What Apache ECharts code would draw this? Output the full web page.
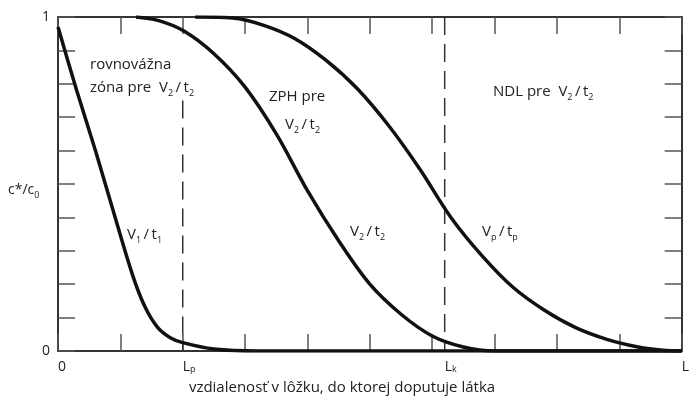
<!DOCTYPE html>
<html>
<head>
<meta charset="utf-8">
<script src="https://cdn.jsdelivr.net/npm/echarts@6/dist/echarts.min.js"></script>
<style>
  html, body { margin: 0; padding: 0; background: #fff; }
  #chart { width: 692px; height: 399px; }
</style>
</head>
<body>
<div id="chart"></div>
<script>
// Breakthrough curves: relative concentration c*/c0 along the bed length
const xTickValues = [0, 2, 6.2, 10];
const xTickLabels = ['0', 'L{s|p}', 'L{s|k}', 'L'];
const yTickValues = [0, 1];
const yTickLabels = ['0', '1'];

const curveV1 = [[0, 0.97], [0.3, 0.78], [0.6, 0.60], [0.9, 0.41], [1.2, 0.225], [1.4, 0.13],
  [1.6, 0.07], [1.8, 0.04], [2.0, 0.025], [2.5, 0.006], [3.2, 0], [10, 0]];
const curveV2 = [[1.25, 1.0], [1.6, 0.99], [2.0, 0.96], [2.5, 0.89], [3.0, 0.79], [3.5, 0.65],
  [4.0, 0.48], [4.5, 0.33], [5.0, 0.20], [5.5, 0.11], [6.0, 0.045], [6.5, 0.012], [7.0, 0], [10, 0]];
const curveVp = [[2.2, 1.0], [2.8, 0.997], [3.3, 0.975], [3.8, 0.935], [4.3, 0.87], [4.8, 0.785],
  [5.3, 0.675], [5.8, 0.545], [6.3, 0.40], [6.8, 0.285], [7.3, 0.19], [7.8, 0.122], [8.3, 0.07],
  [8.8, 0.035], [9.3, 0.012], [9.7, 0.002], [10, 0]];

// Zone boundaries Lp and Lk (dashed verticals)
const lineLp = [[2, 0.75], [2, 0]];
const lineLk = [[6.2, 1], [6.2, 0]];

const FONT = '"Open Sans", "Noto Sans", sans-serif';
const TEXT = '#222';
const THIN = '\u2009';
const subRich = {
  s: { fontSize: 9, fontFamily: FONT, color: TEXT, verticalAlign: 'bottom' }
};

const chart = echarts.init(document.getElementById('chart'), null, { renderer: 'canvas' });

function frameLine() {
  return { show: true, onZero: false, lineStyle: { color: '#333', width: 2 } };
}
function innerTick() {
  return { show: true, inside: true, length: 17, lineStyle: { color: '#555', width: 1.5 } };
}

function curve(data) {
  return {
    type: 'line', data: data, smooth: 0.35, showSymbol: false, symbol: 'none',
    lineStyle: { color: '#111', width: 3.5 }, z: 5, animation: false
  };
}
function dashed(data) {
  return {
    type: 'line', data: data, showSymbol: false, symbol: 'none',
    lineStyle: { color: '#333', width: 1.5, type: [18, 9] }, z: 3, animation: false
  };
}

function label(text, x, y, size) {
  return {
    type: 'text', x: x, y: y,
    style: {
      text: text, fill: TEXT, fontSize: size || 15, fontFamily: FONT,
      verticalAlign: 'middle', align: 'left',
      rich: {
        s: { fontSize: 9, fontFamily: FONT, fill: TEXT, verticalAlign: 'bottom' }
      },
      lineHeight: 20
    },
    z: 10
  };
}

const V = (a, b) => 'V{s|' + a + '}' + THIN + '/' + THIN + 't{s|' + b + '}';

chart.setOption({
  animation: false,
  backgroundColor: '#fff',
  grid: { left: 58, right: 3, top: 17, bottom: 48 },
  xAxis: [
    {
      type: 'value', min: 0, max: 10, interval: 1, position: 'bottom',
      axisLine: frameLine(), axisTick: innerTick(), splitLine: { show: false },
      axisLabel: {
        customValues: xTickValues, margin: 9, align: 'left',
        alignMinLabel: 'left', alignMaxLabel: 'left', hideOverlap: false,
        color: TEXT, fontSize: 14, fontFamily: FONT,
        formatter: v => xTickLabels[xTickValues.indexOf(v)] || '',
        rich: subRich
      }
    },
    {
      type: 'value', min: 0, max: 10, interval: 1, position: 'top',
      axisLine: frameLine(), axisTick: innerTick(), splitLine: { show: false },
      axisLabel: { show: false }
    }
  ],
  yAxis: [
    {
      type: 'value', min: 0, max: 1, interval: 0.1, position: 'left',
      axisLine: frameLine(), axisTick: innerTick(), splitLine: { show: false },
      axisLabel: {
        customValues: yTickValues, margin: 8,
        color: TEXT, fontSize: 14, fontFamily: FONT,
        formatter: v => yTickLabels[yTickValues.indexOf(v)] || ''
      }
    },
    {
      type: 'value', min: 0, max: 1, interval: 0.1, position: 'right',
      axisLine: frameLine(), axisTick: innerTick(), splitLine: { show: false },
      axisLabel: { show: false }
    }
  ],
  series: [
    dashed(lineLp), dashed(lineLk),
    curve(curveV1), curve(curveV2), curve(curveVp)
  ],
  graphic: [
    label('rovnovážna', 90, 65),
    label('zóna pre  ' + V(2, 2), 90, 88),
    label('ZPH pre', 269, 97),
    label(V(2, 2), 285, 125),
    label('NDL pre  ' + V(2, 2), 493, 92),
    label(V(1, 1), 127, 235),
    label(V(2, 2), 350, 232),
    label(V('p', 'p'), 482, 232),
    label('c*/c{s|0}', 8, 190, 14),
    {
      type: 'text', x: 342, y: 388,
      style: {
        text: 'vzdialenosť v lôžku, do ktorej doputuje látka', fill: TEXT,
        fontSize: 15, fontFamily: FONT, align: 'center', verticalAlign: 'middle'
      }
    }
  ]
});
</script>
</body>
</html>
